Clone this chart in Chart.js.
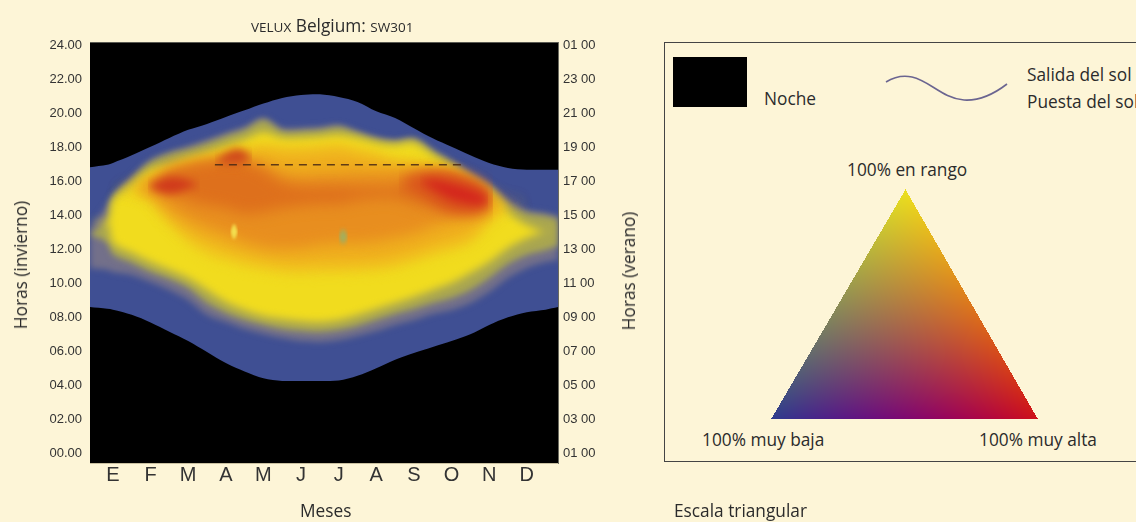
<!DOCTYPE html>
<html lang="es">
<head>
<meta charset="utf-8">
<title>VELUX Belgium: SW301</title>
<script src="https://cdn.jsdelivr.net/npm/chart.js@4"></script>
<style>
  html, body { margin: 0; width: 1136px; height: 522px; overflow: hidden; background: #fdf5d7; }
  body { position: relative; font-family: "Open Sans", sans-serif; font-size: 17.3px; color: #2b2b2b; }
  #heatChart { position: absolute; left: 0; top: 0; }
  .txt { position: absolute; white-space: nowrap; line-height: 20px; }
  .rot { transform: translate(-50%, -50%) rotate(-90deg); }
  .small { font-size: 13.5px; }
  #title { left: 251px; top: 16px; }
  #key-box { position: absolute; left: 664px; top: 42px; width: 600px; height: 420px; border: 1.5px solid #444; box-sizing: border-box; }
  #night-swatch { position: absolute; left: 673px; top: 57px; width: 74px; height: 50px; background: #000; }
  #sun-curve { position: absolute; left: 880px; top: 65px; }
  #triangle { position: absolute; left: 770px; top: 188px; }
</style>
</head>
<body>
<canvas id="heatChart" width="640" height="522"></canvas>

<div class="txt" id="title"><span class="small">VELUX</span> Belgium: <span class="small">SW301</span></div>
<div class="txt rot" style="left:21px;top:265px">Horas (invierno)</div>
<div class="txt rot" style="left:629px;top:271px">Horas (verano)</div>
<div class="txt" style="left:300px;top:501px">Meses</div>

<div id="key-box"></div>
<div id="night-swatch"></div>
<div class="txt" style="left:764px;top:89px">Noche</div>
<svg id="sun-curve" width="135" height="45">
  <path d="M6 17 C 14 12, 22 10, 32 12 C 50 16, 62 33, 84 35 C 100 36, 114 29, 127 19" fill="none" stroke="#6b6590" stroke-width="1.6"/>
</svg>
<div class="txt" style="left:1027px;top:65px">Salida del sol</div>
<div class="txt" style="left:1027px;top:92px">Puesta del sol</div>
<div class="txt" style="left:847px;top:160px">100% en rango</div>
<canvas id="triangle" width="270" height="232"></canvas>
<div class="txt" style="left:702px;top:430px">100% muy baja</div>
<div class="txt" style="left:979px;top:430px">100% muy alta</div>
<div class="txt" style="left:674px;top:501px">Escala triangular</div>

<script>
const monthLabels = ["E", "F", "M", "A", "M", "J", "J", "A", "S", "O", "N", "D"];
const hourTicks = [0, 2, 4, 6, 8, 10, 12, 14, 16, 18, 20, 22, 24];
const winterLabels = ["00.00", "02.00", "04.00", "06.00", "08.00", "10.00", "12.00", "14.00", "16.00", "18.00", "20.00", "22.00", "24.00"];
const summerLabels = ["01 00", "03 00", "05 00", "07 00", "09 00", "11 00", "13 00", "15 00", "17 00", "19 00", "21 00", "23 00", "01 00"];

// columna en unidades de mes (0 = E ... 11 = D)
const columns = [-0.61, -0.15, 0, 0.5, 1, 1.5, 2, 2.5, 3, 3.5, 4, 4.5, 5, 5.5, 6, 6.5, 7, 7.5, 8, 8.5, 9, 9.5, 10, 10.5, 11, 11.5, 11.83];

const sunset = [16.85, 17.0, 17.1, 17.55, 18.05, 18.57, 19.05, 19.4, 19.81, 20.2, 20.6, 20.93, 21.1, 21.15, 20.99, 20.7, 20.15, 19.75, 19.15, 18.55, 18.05, 17.55, 17.1, 16.8, 16.7, 16.7, 16.7];
const sunrise = [8.6, 8.5, 8.45, 8.15, 7.7, 7.15, 6.6, 5.95, 5.3, 4.8, 4.4, 4.25, 4.25, 4.25, 4.27, 4.55, 5.0, 5.5, 5.9, 6.25, 6.6, 7.0, 7.55, 8.0, 8.3, 8.45, 8.6];

const fringeTop = [13.27, 14.62, 15.15, 16.33, 17.28, 17.75, 18.1, 18.46, 18.87, 19.22, 19.75, 19.16, 19.16, 19.22, 19.34, 18.99, 18.63, 18.46, 18.57, 17.87, 17.28, 16.57, 15.92, 14.92, 14.33, 14.15, 13.97];
const fringeLow = [10.91, 10.8, 10.67, 10.5, 10.08, 9.61, 9.02, 8.14, 7.72, 7.31, 7.02, 6.78, 6.6, 6.55, 6.66, 6.9, 7.19, 7.55, 7.84, 8.2, 8.43, 8.84, 9.49, 10.32, 10.91, 11.26, 11.38];
const oliveTop = [12.9, 13.8, 15.04, 16.16, 17.16, 17.63, 17.92, 18.28, 18.69, 19.05, 19.63, 18.99, 18.99, 19.05, 19.22, 18.87, 18.51, 18.34, 18.46, 17.75, 17.1, 16.39, 15.74, 14.68, 14.15, 13.97, 13.8];
const oliveLow = [12.9, 12.4, 11.7, 11.2, 10.67, 10.26, 9.73, 8.84, 8.26, 7.84, 7.55, 7.31, 7.19, 7.13, 7.25, 7.49, 7.84, 8.2, 8.49, 8.84, 9.14, 9.61, 10.32, 11.14, 11.68, 11.97, 12.2];
const yellowTop = [13.62, 13.62, 14.92, 15.8, 16.69, 16.98, 17.39, 17.69, 18.1, 18.46, 18.93, 18.57, 18.57, 18.63, 18.75, 18.57, 18.28, 18.16, 18.28, 17.57, 16.86, 16.1, 15.39, 14.21, 13.44, 13.05, 13.05];
const yellowLow = [13.62, 13.62, 12.38, 11.8, 11.26, 10.8, 10.32, 9.61, 8.9, 8.43, 8.07, 7.9, 7.78, 7.72, 7.84, 8.14, 8.49, 8.84, 9.2, 9.61, 10.02, 10.61, 11.26, 12.09, 12.68, 13.05, 13.05];
const lightTop = [15.39, 15.39, 15.39, 15.39, 16.21, 16.69, 16.98, 17.39, 17.75, 17.98, 18.28, 18.1, 18.1, 18.16, 18.28, 17.98, 17.75, 17.39, 17.28, 16.98, 16.57, 15.68, 15.04, 14.45, 14.45, 14.45, 14.45];
const lightLow = [15.39, 15.39, 15.39, 15.39, 14.92, 13.5, 12.4, 11.65, 11.3, 11.0, 10.77, 10.59, 10.53, 10.59, 10.59, 10.65, 10.71, 10.89, 11.24, 11.6, 11.9, 12.35, 13.5, 14.45, 14.45, 14.45, 14.45];
const amberTop = [15.5, 15.5, 15.5, 15.5, 16.0, 16.4, 16.7, 17.0, 17.35, 17.6, 17.85, 17.7, 17.7, 17.75, 17.85, 17.6, 17.35, 17.0, 16.9, 16.6, 16.2, 15.4, 14.9, 14.6, 14.6, 14.6, 14.6];
const amberLow = [15.5, 15.5, 15.5, 15.5, 15.0, 13.9, 13.0, 12.4, 12.0, 11.65, 11.4, 11.2, 11.15, 11.2, 11.2, 11.25, 11.3, 11.5, 11.8, 12.2, 12.5, 12.9, 14.0, 14.6, 14.6, 14.6, 14.6];
const orangeTop = [15.74, 15.74, 15.74, 15.74, 16.04, 16.75, 17.1, 17.34, 17.45, 17.39, 16.98, 16.45, 16.33, 16.39, 16.45, 16.51, 16.51, 16.57, 16.63, 16.69, 16.57, 16.1, 15.15, 14.92, 14.92, 14.92, 14.92];
const orangeLow = [15.74, 15.74, 15.74, 15.74, 15.51, 14.5, 13.8, 13.3, 12.9, 12.45, 12.15, 12.05, 12.1, 12.3, 12.4, 12.4, 12.5, 12.7, 12.95, 13.4, 13.75, 14.1, 14.74, 14.92, 14.92, 14.92, 14.92];
const deepTop = [15.8, 15.8, 15.8, 15.8, 15.8, 16.57, 16.92, 17.1, 17.22, 17.1, 16.69, 15.98, 15.74, 15.74, 15.74, 15.68, 15.68, 15.68, 16.21, 16.45, 16.39, 15.98, 15.27, 15.04, 15.04, 15.04, 15.04];
const deepLow = [15.8, 15.8, 15.8, 15.8, 15.8, 15.51, 14.92, 14.62, 14.45, 14.09, 14.21, 14.45, 14.57, 14.68, 14.68, 14.92, 15.04, 15.04, 14.74, 14.51, 14.33, 14.45, 15.04, 15.04, 15.04, 15.04, 15.04];

const redLeftX = [0.93, 1.25, 1.52, 1.78, 2.05, 2.31];
const redLeftTop = [15.74, 16.1, 16.27, 16.21, 16.04, 15.74];
const redLeftLow = [15.74, 15.39, 15.27, 15.39, 15.63, 15.74];
const redUpperX = [2.71, 3.06, 3.38, 3.7];
const redUpperTop = [17.16, 17.75, 17.92, 17.39];
const redUpperLow = [17.16, 17.04, 17.04, 17.39];
const haloRightX = [7.6, 8.16, 8.8, 9.4, 9.9, 10.1];
const haloRightTop = [15.98, 16.4, 16.5, 16.21, 15.74, 15.04];
const haloRightLow = [15.98, 15.3, 14.4, 14.09, 14.21, 15.04];
const redRightX = [8.16, 8.56, 8.96, 9.36, 9.76, 9.97];
const redRightTop = [16.1, 16.1, 15.9, 15.65, 15.3, 14.92];
const redRightLow = [16.1, 15.5, 15.0, 14.75, 14.65, 14.92];

const spotYellowX = [3.12, 3.22, 3.32];
const spotYellowTop = [13.05, 13.5, 13.05];
const spotYellowLow = [13.05, 12.6, 13.05];
const spotGreenX = [6.0, 6.12, 6.24];
const spotGreenTop = [12.75, 13.2, 12.75];
const spotGreenLow = [12.75, 12.3, 12.75];

const dashX = [2.71, 9.3];
const dashY = [17, 17];

function toPoints(xs, ys) {
  return xs.map((x, i) => ({ x, y: ys[i] }));
}

// cada banda son dos lineas: la de arriba rellena hasta la siguiente
function band(xs, top, low, color, blur) {
  const base = { borderWidth: 0, pointRadius: 0, tension: 0.3, blur };
  return [
    { ...base, data: toPoints(xs, top), fill: "+1", backgroundColor: color },
    { ...base, data: toPoints(xs, low), fill: false }
  ];
}

const datasets = [
  {
    data: toPoints(dashX, dashY),
    borderColor: "rgba(70, 40, 20, 0.85)",
    borderWidth: 1.5,
    borderDash: [8, 6],
    pointRadius: 0,
    fill: false,
    blur: 0
  },
  ...band(spotYellowX, spotYellowTop, spotYellowLow, "#f3e050", 1.5),
  ...band(spotGreenX, spotGreenTop, spotGreenLow, "#9fb060", 2),
  ...band(redRightX, redRightTop, redRightLow, "#d4261d", 5),
  ...band(redLeftX, redLeftTop, redLeftLow, "#d03a1c", 4),
  ...band(redUpperX, redUpperTop, redUpperLow, "#d04a1c", 4),
  ...band(haloRightX, haloRightTop, haloRightLow, "#d9501c", 7),
  ...band(columns, deepTop, deepLow, "#de701c", 7),
  ...band(columns, orangeTop, orangeLow, "#e88e1f", 7),
  ...band(columns, amberTop, amberLow, "#efad1e", 7),
  ...band(columns, lightTop, lightLow, "#f1c81e", 6),
  ...band(columns, yellowTop, yellowLow, "#f1dc1e", 4),
  ...band(columns, oliveTop, oliveLow, "#a9a650", 3),
  ...band(columns, fringeTop, fringeLow, "#73708a", 3),
  ...band(columns, sunset, sunrise, "#3f4f93", 0.7)
];

function setBlur(ctx, dataset) {
  ctx.filter = dataset && dataset.blur ? `blur(${dataset.blur}px)` : "none";
}

// fondo negro (noche) y difuminado de las bandas; se dibujan del ultimo al primero
const heatPlugin = {
  id: "heatPlugin",
  beforeDatasetsDraw(chart) {
    const { ctx, chartArea: a, data } = chart;
    ctx.fillStyle = "#000";
    ctx.fillRect(a.left, a.top, a.right - a.left, a.bottom - a.top);
    setBlur(ctx, data.datasets[data.datasets.length - 1]);
  },
  afterDatasetDraw(chart, args) {
    setBlur(chart.ctx, chart.data.datasets[args.index - 1]);
  },
  afterDatasetsDraw(chart) {
    const { ctx, chartArea: a } = chart;
    ctx.filter = "none";
    ctx.strokeStyle = "#5a5a52";
    ctx.lineWidth = 1;
    ctx.beginPath();
    ctx.moveTo(a.left, a.top + 0.5);
    ctx.lineTo(a.right, a.top + 0.5);
    ctx.stroke();
  }
};

const tickFont = { family: "'Liberation Sans', Arial, sans-serif", size: 13 };
const fixedTicks = values => axis => {
  axis.ticks = values.map(value => ({ value }));
};

new Chart(document.getElementById("heatChart"), {
  type: "line",
  data: { datasets },
  plugins: [heatPlugin],
  options: {
    responsive: false,
    animation: false,
    parsing: false,
    normalized: true,
    layout: { padding: { top: 42, bottom: 29, left: 0, right: 0 } },
    plugins: {
      legend: { display: false },
      tooltip: { enabled: false },
      title: { display: false }
    },
    scales: {
      x: {
        type: "linear",
        min: -0.61,
        max: 11.83,
        afterBuildTicks: fixedTicks(monthLabels.map((_, i) => i)),
        afterFit: axis => { axis.height = 30; },
        grid: { display: false, drawTicks: false },
        border: { color: "#c9c0a0" },
        ticks: {
          color: "#333",
          padding: 0,
          autoSkip: false,
          maxRotation: 0,
          font: { family: tickFont.family, size: 20 },
          callback: value => monthLabels[value]
        }
      },
      y: {
        type: "linear",
        position: "left",
        min: -0.59,
        max: 24.23,
        afterBuildTicks: fixedTicks(hourTicks),
        afterFit: axis => { axis.width = 90; },
        grid: { display: false, drawTicks: false },
        border: { color: "#c9c0a0" },
        ticks: {
          color: "#333",
          padding: 8,
          font: tickFont,
          callback: value => winterLabels[hourTicks.indexOf(value)]
        }
      },
      yRight: {
        type: "linear",
        position: "right",
        min: -0.59,
        max: 24.23,
        afterBuildTicks: fixedTicks(hourTicks),
        afterFit: axis => { axis.width = 82; },
        grid: { display: false, drawTicks: false },
        border: { color: "#6b6b60" },
        ticks: {
          color: "#333",
          padding: 5,
          font: tickFont,
          callback: value => summerLabels[hourTicks.indexOf(value)]
        }
      }
    }
  }
});

// triangulo de la escala: mezcla de los tres colores de las esquinas
function drawTriangle() {
  const canvas = document.getElementById("triangle");
  const ctx = canvas.getContext("2d");
  const apex = [135, 1];
  const left = [1, 230];
  const right = [267, 230];
  const yellow = [236, 224, 30];
  const blue = [46, 60, 140];
  const red = [206, 16, 24];
  const img = ctx.createImageData(canvas.width, canvas.height);
  const det = (left[1] - right[1]) * (apex[0] - right[0]) + (right[0] - left[0]) * (apex[1] - right[1]);
  for (let y = 0; y < canvas.height; y += 1) {
    for (let x = 0; x < canvas.width; x += 1) {
      const a = ((left[1] - right[1]) * (x - right[0]) + (right[0] - left[0]) * (y - right[1])) / det;
      const b = ((right[1] - apex[1]) * (x - right[0]) + (apex[0] - right[0]) * (y - right[1])) / det;
      const c = 1 - a - b;
      if (a < 0 || b < 0 || c < 0) continue;
      const i = (y * canvas.width + x) * 4;
      // azul + rojo da un violeta mas saturado que la mezcla simple
      const violet = 120 * b * c;
      img.data[i] = a * yellow[0] + b * blue[0] + c * red[0];
      img.data[i + 1] = a * yellow[1] + b * blue[1] + c * red[1] - violet;
      img.data[i + 2] = a * yellow[2] + b * blue[2] + c * red[2] + violet;
      img.data[i + 3] = 255;
    }
  }
  ctx.putImageData(img, 0, 0);
}

drawTriangle();
</script>
</body>
</html>
